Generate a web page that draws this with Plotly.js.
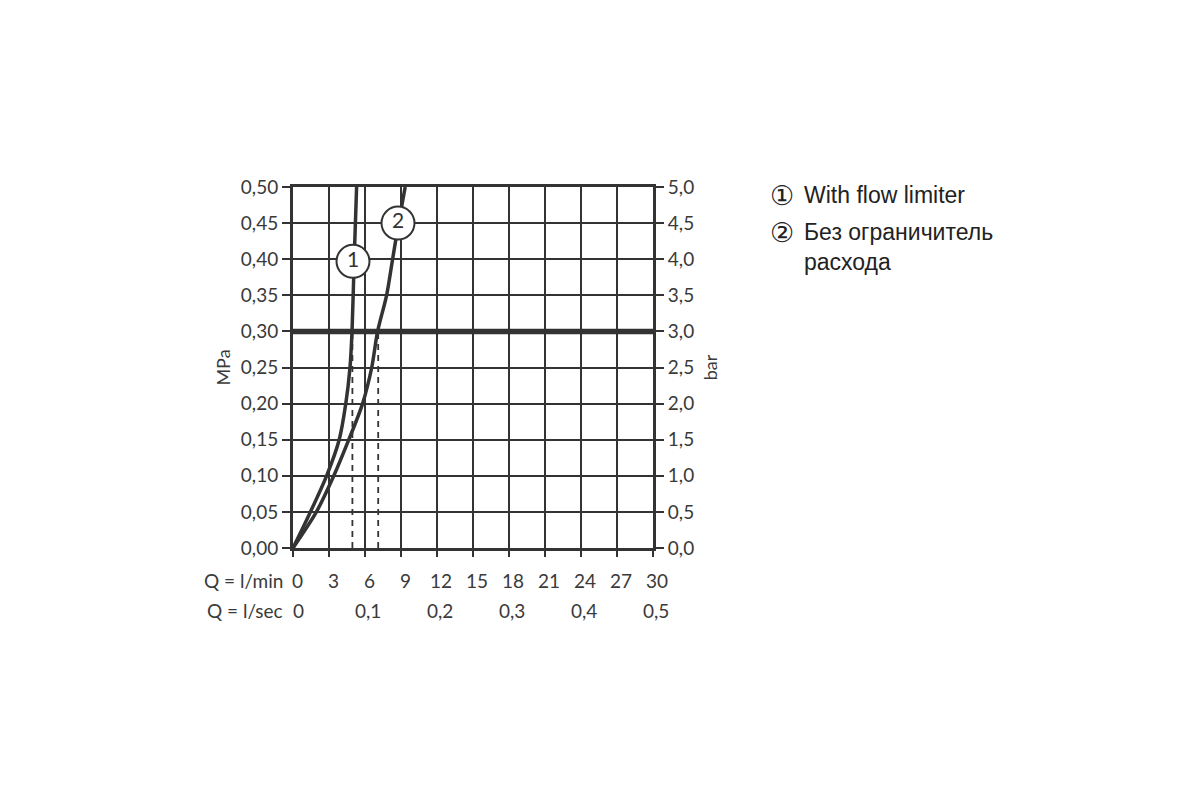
<!DOCTYPE html>
<html>
<head>
<meta charset="utf-8">
<script src="https://cdn.plot.ly/plotly-3.0.1.min.js"></script>
<style>html,body{margin:0;padding:0;background:#fff;}#chart{width:1200px;height:800px;}</style>
</head>
<body>
<div id="chart"></div>
<script>
// Curve 1: with flow limiter (Q in l/min, p in MPa)
const q1 = [0, 1.45, 2.8, 3.85, 4.4, 4.75, 4.92, 5.1, 5.3];
const p1 = [0, 0.05, 0.10, 0.15, 0.20, 0.25, 0.30, 0.40, 0.50];
// Curve 2: without flow limiter
const q2 = [0, 1.95, 3.4, 4.65, 5.8, 6.56, 7.05, 7.8, 8.3, 8.8, 9.35];
const p2 = [0, 0.05, 0.10, 0.15, 0.20, 0.25, 0.30, 0.35, 0.40, 0.45, 0.50];
// Dashed read-off lines at 0.30 MPa
const dashQ = [4.95, 7.1];
const dashP = 0.30;
// Reference line
const refP = 0.30;
// Curve labels
const labelText = ["1", "2"];
const labelQ = [5.0, 8.75];
const labelP = [0.397, 0.45];
// Tick labels
const qMinTicks = [0, 3, 6, 9, 12, 15, 18, 21, 24, 27, 30];
const qSecVals = [0, 0.1, 0.2, 0.3, 0.4, 0.5];
const qSecText = ["0", "0,1", "0,2", "0,3", "0,4", "0,5"];
const mpaTicks = [0, 0.05, 0.10, 0.15, 0.20, 0.25, 0.30, 0.35, 0.40, 0.45, 0.50];
const barTicks = [0, 0.5, 1.0, 1.5, 2.0, 2.5, 3.0, 3.5, 4.0, 4.5, 5.0];
const legendMarks = ["\u2460", "\u2461", ""];
const legendItems = ["With flow limiter", "Без ограничитель", "расхода"];

const dark = "#333333";
const fam = "Lato, 'DejaVu Sans', sans-serif";
const tickFont = {family: fam, size: 19, color: "#3a3a3a"};

const traces = [];
dashQ.forEach(q => traces.push({
  x: [q, q], y: [0, dashP], mode: "lines", type: "scatter",
  line: {color: dark, width: 1.8, dash: "6px,5px"}, hoverinfo: "skip", showlegend: false
}));
traces.push({
  x: [0, 30], y: [refP, refP], mode: "lines", type: "scatter",
  line: {color: dark, width: 5.5}, showlegend: false, hoverinfo: "skip"
});
traces.push({x: q1, y: p1, mode: "lines", type: "scatter", line: {color: dark, width: 3.5, shape: "spline", smoothing: 0.8}, showlegend: false});
traces.push({x: q2, y: p2, mode: "lines", type: "scatter", line: {color: dark, width: 3.5, shape: "spline", smoothing: 0.8}, showlegend: false});
traces.push({
  x: labelQ, y: labelP, text: labelText, mode: "markers+text", type: "scatter",
  marker: {size: 33, color: "#ffffff", line: {color: dark, width: 2}},
  textposition: "middle center",
  textfont: {family: fam, size: 21, color: dark},
  showlegend: false
});
// dummy trace for right axis
traces.push({x: [0], y: [0], yaxis: "y2", mode: "markers", marker: {opacity: 0}, showlegend: false, hoverinfo: "skip"});

const annotations = [];
annotations.push({xref: "paper", yref: "paper", x: 0, y: 0, xshift: -8, yshift: -32, xanchor: "right", yanchor: "middle",
  text: "Q = l/min", showarrow: false, font: tickFont});
annotations.push({xref: "paper", yref: "paper", x: 0, y: 0, xshift: -8, yshift: -62, xanchor: "right", yanchor: "middle",
  text: "Q = l/sec", showarrow: false, font: tickFont});
qMinTicks.forEach((v, i) => annotations.push({
  xref: "x", yref: "paper", x: v, y: 0, yshift: -32, xanchor: "center", yanchor: "middle",
  xshift: 4, text: String(v), showarrow: false, font: tickFont
}));
qSecVals.forEach((v, i) => annotations.push({
  xref: "x", yref: "paper", x: v * 60, y: 0, yshift: -62, xanchor: "center", yanchor: "middle",
  xshift: i === 0 ? 5 : 3, text: qSecText[i], showarrow: false, font: tickFont
}));
const legY = [195, 232, 262];
const legFont = {family: "'Liberation Sans', Arial, sans-serif", size: 23, color: "#222"};
legendItems.forEach((t, i) => {
  if (legendMarks[i]) annotations.push({
    xref: "paper", yref: "paper", x: (768 - 293) / 360, y: (548 - legY[i]) / 361,
    xanchor: "left", yanchor: "middle", showarrow: false, text: legendMarks[i],
    font: {family: "'DejaVu Sans', sans-serif", size: 27, color: "#222"}
  });
  annotations.push({
    xref: "paper", yref: "paper", x: (802 - 293) / 360, y: (548 - legY[i]) / 361,
    xanchor: "left", yanchor: "middle", showarrow: false, text: t, font: legFont
  });
});

const layout = {
  width: 1200, height: 800,
  margin: {l: 293, r: 547, t: 187, b: 252},
  paper_bgcolor: "#ffffff", plot_bgcolor: "#ffffff",
  separators: ",.",
  showlegend: false,
  xaxis: {
    range: [0, 30], tickvals: qMinTicks, showticklabels: false,
    showgrid: true, gridcolor: dark, gridwidth: 2,
    showline: true, linecolor: dark, linewidth: 3, mirror: true,
    ticks: "outside", ticklen: 6, tickwidth: 2, tickcolor: dark,
    zeroline: false, fixedrange: true
  },
  yaxis: {
    range: [0, 0.5], tickvals: mpaTicks, tickformat: ".2f",
    showgrid: true, gridcolor: dark, gridwidth: 2,
    showline: true, linecolor: dark, linewidth: 3,
    ticks: "outside", ticklen: 8, tickwidth: 2, tickcolor: dark,
    tickfont: tickFont, zeroline: false,
    title: {text: "MPa", font: {family: fam, size: 18, color: "#3a3a3a"}, standoff: 6}
  },
  yaxis2: {
    range: [0, 5], tickvals: barTicks, tickformat: ".1f", overlaying: "y", side: "right",
    showgrid: false, showline: true, linecolor: dark, linewidth: 3,
    ticks: "outside", ticklen: 8, tickwidth: 2, tickcolor: dark,
    tickfont: tickFont, zeroline: false,
    title: {text: "bar", font: {family: fam, size: 18, color: "#3a3a3a"}, standoff: 12}
  },
  annotations: annotations
};

Plotly.newPlot("chart", traces, layout, {displayModeBar: false, staticPlot: true});
</script>
</body>
</html>
